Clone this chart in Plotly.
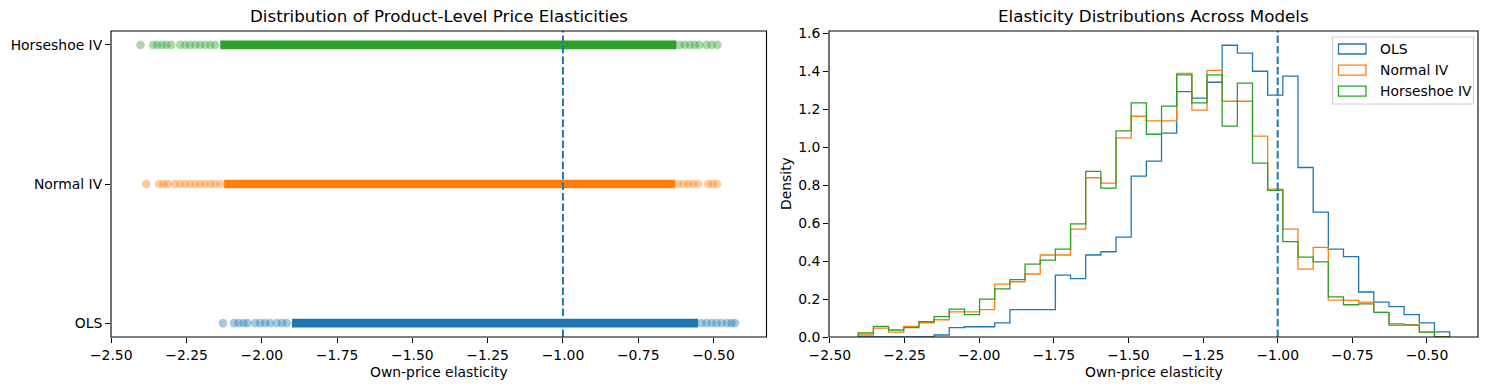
import numpy as np
import plotly.graph_objects as go

# ---------------- data ----------------
models = ["OLS", "Normal IV", "Horseshoe IV"]
colors = ["#1f77b4", "#ff7f0e", "#2ca02c"]

# strip plot: isolated points in the tails and solid (densely packed) middle range
ols_left_tail = [-2.129, -2.092, -2.077, -2.061, -2.048, -2.022, -2.005, -1.989, -1.972, -1.950, -1.933, -1.917]
ols_dense = [-1.900, -0.551]
ols_right_tail = [-0.540, -0.523, -0.506, -0.490, -0.473, -0.455, -0.440, -0.429]

normal_left_tail = [-2.384, -2.341, -2.326, -2.312, -2.288, -2.271, -2.254, -2.238, -2.221, -2.205,
                    -2.188, -2.171, -2.155, -2.138]
normal_dense = [-2.125, -0.627]
normal_right_tail = [-0.617, -0.601, -0.584, -0.567, -0.551, -0.518, -0.503, -0.488]

horse_left_tail = [-2.403, -2.361, -2.347, -2.331, -2.317, -2.301, -2.271, -2.254, -2.238, -2.221,
                   -2.205, -2.188, -2.171, -2.155]
horse_dense = [-2.138, -0.623]
horse_right_tail = [-0.612, -0.595, -0.578, -0.562, -0.547, -0.523, -0.506, -0.487]

# histogram (density) on shared bins
bin_start = -2.405
bin_end = -0.424
n_bins = 39
ols_density = [0, 0, 0, 0, 0, 0.0105, 0.049, 0.054, 0.054, 0.074, 0.144, 0.144, 0.144, 0.326, 0.307,
               0.432, 0.449, 0.526, 0.847, 0.926, 1.074, 1.293, 1.258, 1.342, 1.537, 1.495, 1.400,
               1.274, 1.374, 0.893, 0.658, 0.463, 0.423, 0.237, 0.184, 0.160, 0.118, 0.074, 0.027]
normal_density = [0.0105, 0.047, 0.026, 0.056, 0.075, 0.091, 0.132, 0.132, 0.144, 0.279, 0.291, 0.332,
                  0.432, 0.432, 0.568, 0.839, 0.811, 1.049, 1.163, 1.139, 1.139, 1.389, 1.195, 1.405,
                  1.242, 1.242, 1.058, 0.779, 0.568, 0.358, 0.472, 0.196, 0.193, 0.184, 0.130, 0.070,
                  0.065, 0.026, 0]
horse_density = [0.021, 0.056, 0.037, 0.049, 0.081, 0.107, 0.147, 0.118, 0.200, 0.253, 0.302, 0.384,
                 0.405, 0.463, 0.596, 0.872, 0.784, 1.086, 1.233, 1.068, 1.216, 1.381, 1.233, 1.381,
                 1.111, 1.337, 0.916, 0.772, 0.502, 0.421, 0.396, 0.211, 0.170, 0.175, 0.130, 0.063,
                 0.063, 0.026, 0]

reference_line = -1.0
x_ticks = [-2.5, -2.25, -2.0, -1.75, -1.5, -1.25, -1.0, -0.75, -0.5]

strip = [
    (ols_left_tail, ols_dense, ols_right_tail),
    (normal_left_tail, normal_dense, normal_right_tail),
    (horse_left_tail, horse_dense, horse_right_tail),
]
densities = [ols_density, normal_density, horse_density]

# ---------------- figure ----------------
W, H = 1489, 390
FONT = "DejaVu Sans"


def px(x):
    return x / W


def py(y):
    return 1 - y / H


fig = go.Figure()

for name, col, (lt, dense, rt) in zip(models, colors, strip):
    fig.add_trace(go.Scatter(x=dense, y=[name, name], mode="lines",
                             line=dict(color=col, width=8.6), xaxis="x", yaxis="y",
                             showlegend=False, hoverinfo="skip"))
    pts = lt + rt
    fig.add_trace(go.Scatter(x=pts, y=[name] * len(pts), mode="markers",
                             marker=dict(color=col, size=8.6, opacity=0.4, line=dict(width=0)),
                             xaxis="x", yaxis="y", showlegend=False))

edges = np.linspace(bin_start, bin_end, n_bins + 1)
for name, col, dens in zip(models, colors, densities):
    xs, ys = [edges[0]], [0.0]
    for i, d in enumerate(dens):
        xs += [edges[i], edges[i + 1]]
        ys += [d, d]
    xs.append(edges[-1])
    ys.append(0.0)
    fig.add_trace(go.Scatter(x=xs, y=ys, mode="lines", line=dict(color=col, width=1.3),
                             xaxis="x2", yaxis="y2", showlegend=False, name=name))

axis_common = dict(showline=False, ticks="outside", ticklen=5, tickwidth=1.1, tickcolor="black",
                   showgrid=False, zeroline=False, automargin=False,
                   tickfont=dict(family=FONT, size=13.9, color="black"))

fig.update_layout(
    width=W, height=H,
    margin=dict(l=0, r=0, t=0, b=0, autoexpand=False),
    paper_bgcolor="white", plot_bgcolor="white",
    showlegend=False,
    xaxis=dict(domain=[px(111), px(766.5)], range=[-2.5008, -0.324], anchor="y",
               tickvals=x_ticks, tickformat=".2f", **axis_common),
    yaxis=dict(domain=[py(337), py(31)], range=[-0.1, 2.1], anchor="x",
               type="category", categoryorder="array", categoryarray=models, **axis_common),
    xaxis2=dict(domain=[px(829), px(1478)], range=[-2.503, -0.329], anchor="y2",
                tickvals=x_ticks, tickformat=".2f", **axis_common),
    yaxis2=dict(domain=[py(337), py(31)], range=[0, 1.612], anchor="x2",
                dtick=0.2, tick0=0, tickformat=".1f", **axis_common),
)

dash = "7.5px,3px"
for xr, yr in [("x", "y domain"), ("x2", "y2 domain")]:
    fig.add_shape(type="line", xref=xr, yref=yr, x0=reference_line, x1=reference_line, y0=0, y1=1,
                  line=dict(color="#1f77b4", width=2, dash=dash), layer="above")

# axes frames (all four spines)
for xr, yr in [("x domain", "y domain"), ("x2 domain", "y2 domain")]:
    fig.add_shape(type="rect", xref=xr, yref=yr, x0=0, x1=1, y0=0, y1=1,
                  line=dict(color="black", width=1.1), fillcolor="rgba(0,0,0,0)", layer="above")

ann_font = dict(family=FONT, size=13.9, color="black")
title_font = dict(family=FONT, size=16.7, color="black")
annotations = [
    dict(text="Distribution of Product-Level Price Elasticities", x=px(438.75), y=py(16),
         font=title_font),
    dict(text="Elasticity Distributions Across Models", x=px(1153.5), y=py(16), font=title_font),
    dict(text="Own-price elasticity", x=px(438.75), y=py(372), font=ann_font),
    dict(text="Own-price elasticity", x=px(1153.5), y=py(372), font=ann_font),
    dict(text="Density", x=px(786), y=py(184), font=ann_font, textangle=-90),
]
for a in annotations:
    a.update(xref="paper", yref="paper", xanchor="center", yanchor="middle", showarrow=False)
    fig.add_annotation(**a)

# legend (drawn like matplotlib's: outlined patches + labels)
fig.add_shape(type="rect", xref="paper", yref="paper", x0=px(1332.5), x1=px(1473.5),
              y0=py(104), y1=py(37), line=dict(color="#cccccc", width=1),
              fillcolor="rgba(255,255,255,0.8)", layer="above")
for i, (name, col) in enumerate(zip(models, colors)):
    yc = 49 + i * 21.1
    fig.add_shape(type="rect", xref="paper", yref="paper", x0=px(1338.5), x1=px(1366),
                  y0=py(yc + 5), y1=py(yc - 5), line=dict(color=col, width=1.3),
                  fillcolor="rgba(0,0,0,0)", layer="above")
    fig.add_annotation(text=name, xref="paper", yref="paper", x=px(1377.5), y=py(yc),
                       xanchor="left", yanchor="middle", showarrow=False, font=ann_font)

fig.write_html("out.html", config={"displayModeBar": False},
               post_script="document.body.style.margin='0';document.body.style.overflow='hidden';")
